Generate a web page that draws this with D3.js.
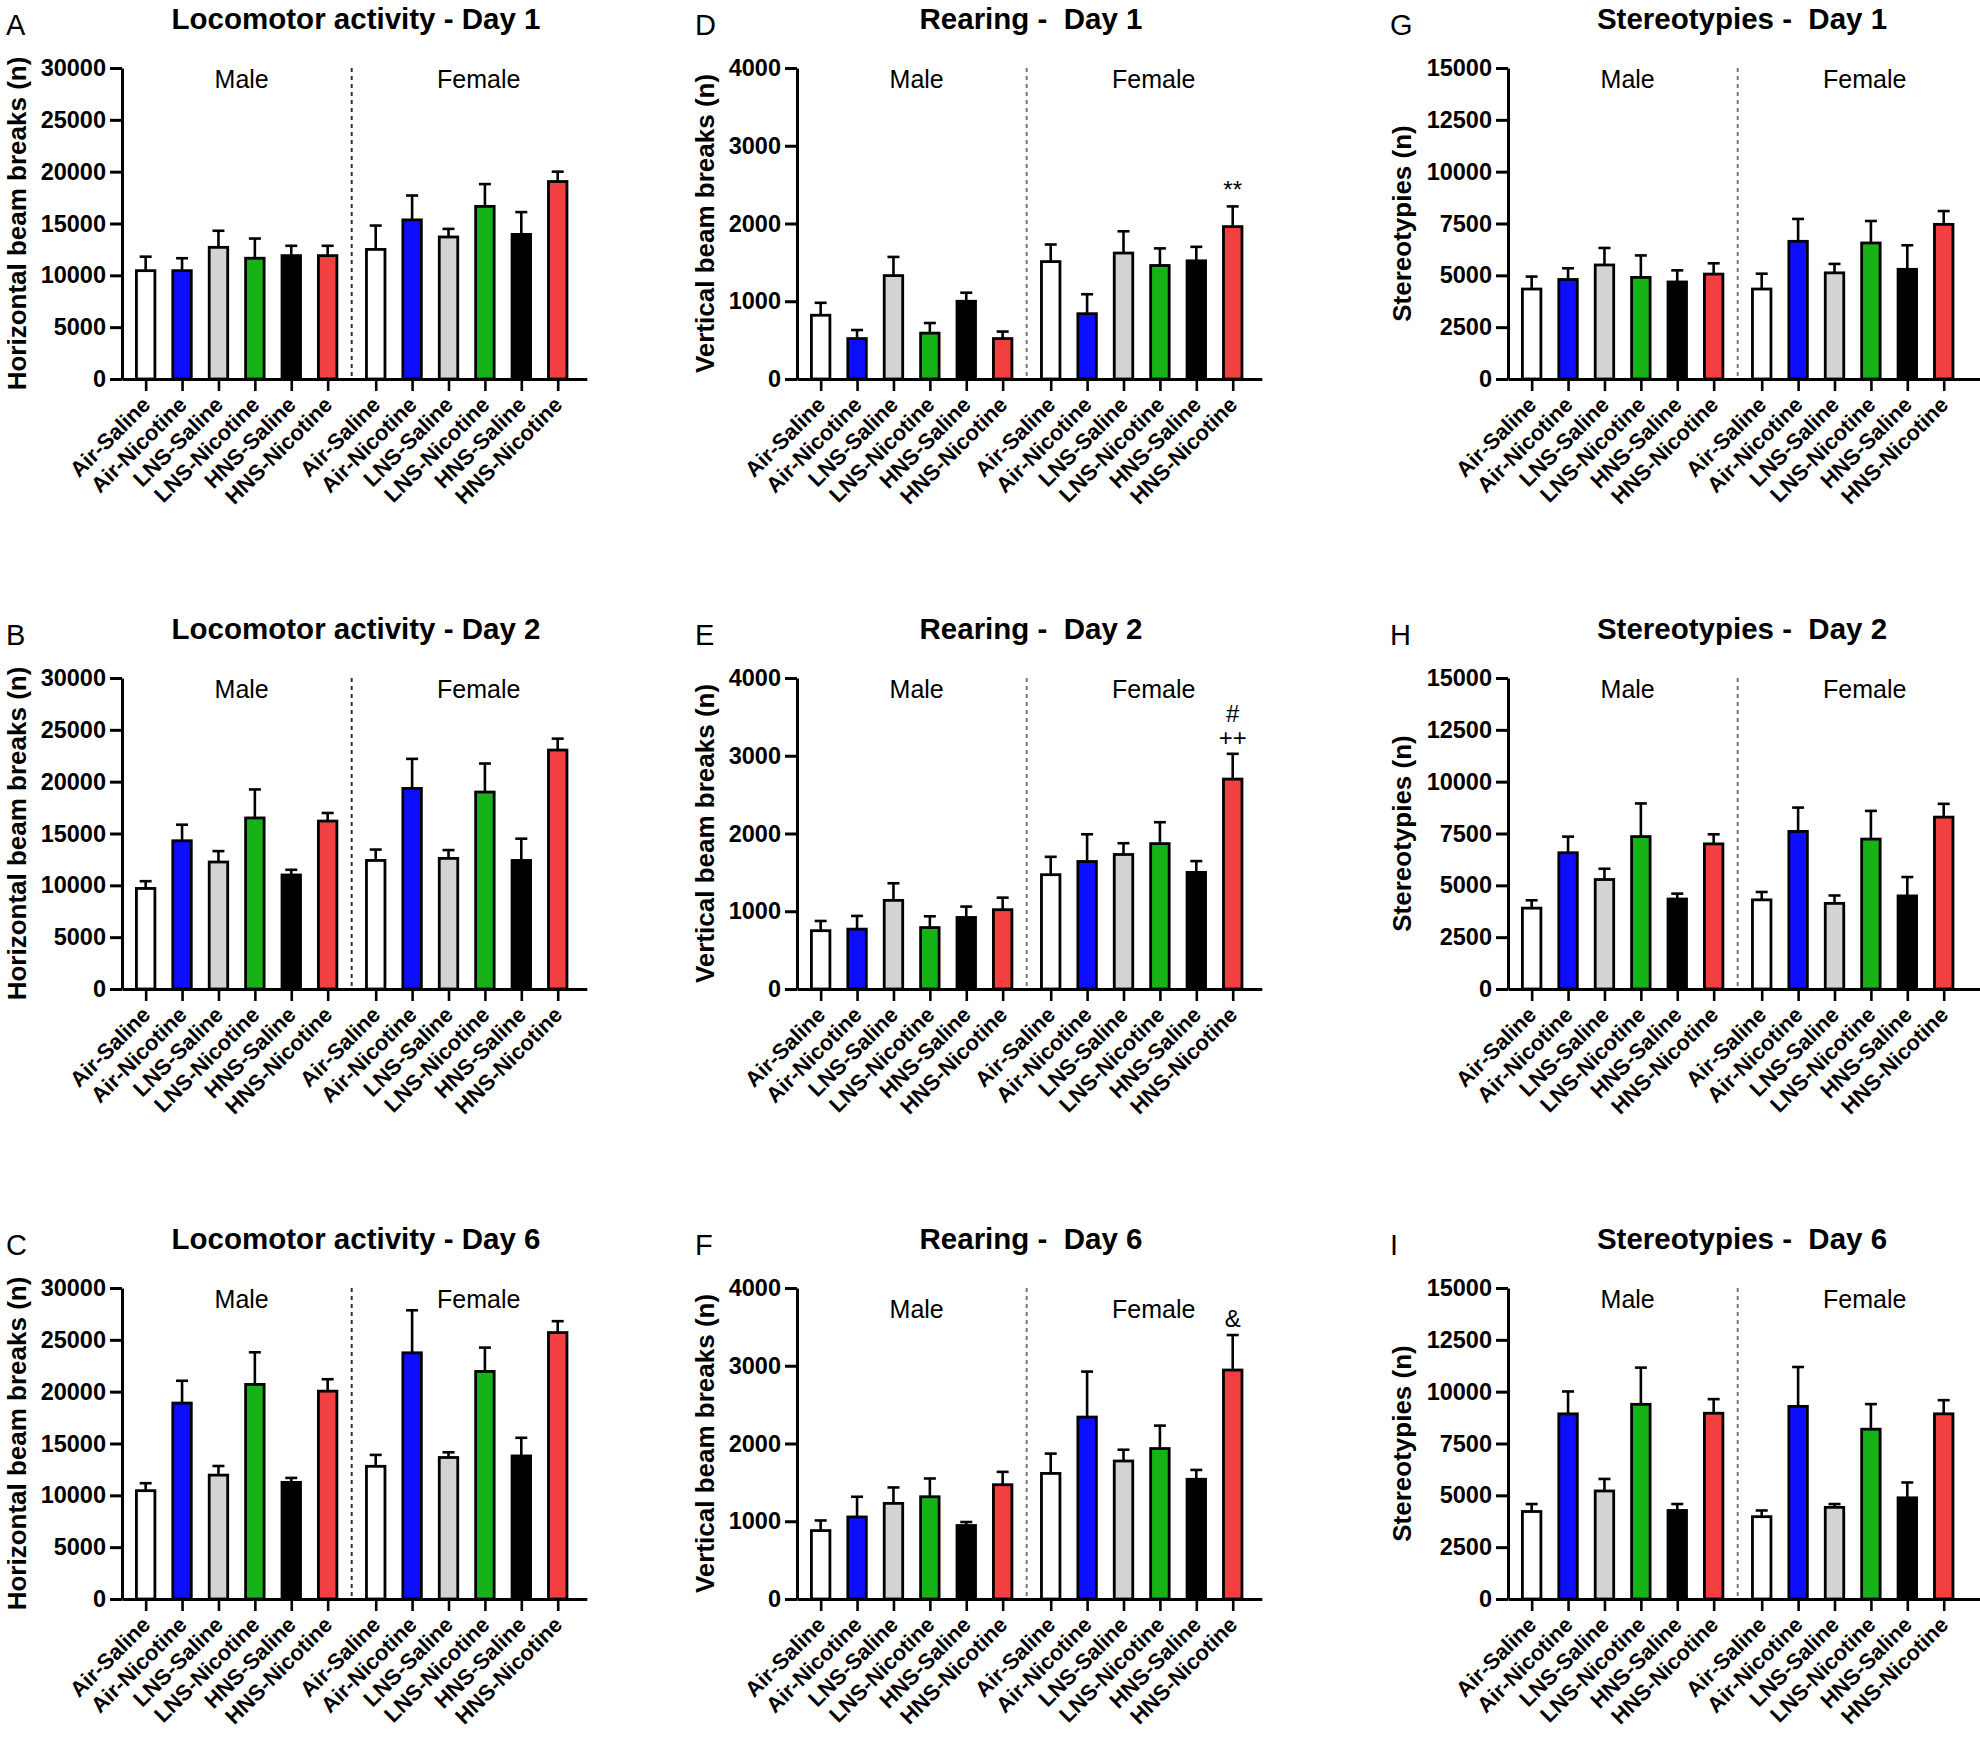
<!DOCTYPE html>
<html>
<head>
<meta charset="utf-8">
<script src="https://cdn.jsdelivr.net/npm/d3@7"></script>
<style>
  body { margin: 0; background: #fff; }
  svg text { font-family: "Liberation Sans", Arial, sans-serif; }
</style>
</head>
<body>
<div id="canvas"></div>
<script>
// groups, repeated for male then female
const groups = ["Air-Saline", "Air-Nicotine", "LNS-Saline", "LNS-Nicotine", "HNS-Saline", "HNS-Nicotine"];
const sexes = ["Male", "Female"];
const categories = groups.concat(groups);
const barColors = ["#ffffff", "#0d0dff", "#d3d3d3", "#17b217", "#000000", "#f23f3f"];

// Locomotor activity (horizontal beam breaks), mean and SEM
const locoDay1Mean = [10450, 10450, 12700, 11650, 11900, 11900, 12500, 15350, 13700, 16650, 13950, 19050];
const locoDay1Sem  = [1350, 1200, 1600, 1900, 950, 950, 2300, 2350, 780, 2150, 2150, 950];
const locoDay2Mean = [9700, 14300, 12250, 16500, 11000, 16200, 12400, 19350, 12600, 19000, 12400, 23050];
const locoDay2Sem  = [700, 1550, 1050, 2750, 500, 780, 1050, 2850, 800, 2750, 2100, 1100];
const locoDay6Mean = [10450, 18900, 11950, 20700, 11250, 20050, 12800, 23750, 13650, 21950, 13800, 25700];
const locoDay6Sem  = [720, 2150, 880, 3100, 430, 1150, 1100, 4100, 500, 2300, 1750, 1100];

// Rearing (vertical beam breaks)
const rearDay1Mean = [820, 520, 1330, 590, 1000, 520, 1510, 840, 1620, 1460, 1520, 1960];
const rearDay1Sem  = [160, 110, 240, 130, 110, 90, 220, 250, 280, 220, 180, 260];
const rearDay2Mean = [750, 770, 1140, 790, 920, 1020, 1470, 1640, 1730, 1870, 1500, 2700];
const rearDay2Sem  = [125, 170, 220, 145, 140, 155, 230, 350, 145, 275, 145, 325];
const rearDay6Mean = [880, 1055, 1230, 1315, 945, 1470, 1615, 2340, 1775, 1935, 1540, 2945];
const rearDay6Sem  = [130, 260, 205, 235, 45, 165, 255, 585, 145, 295, 120, 450];

// Stereotypies
const stereoDay1Mean = [4340, 4800, 5500, 4900, 4680, 5060, 4340, 6640, 5120, 6560, 5290, 7460];
const stereoDay1Sem  = [600, 540, 820, 1060, 560, 520, 740, 1080, 430, 1060, 1160, 640];
const stereoDay2Mean = [3900, 6570, 5280, 7350, 4340, 7000, 4300, 7600, 4130, 7230, 4490, 8290];
const stereoDay2Sem  = [380, 780, 520, 1600, 260, 460, 380, 1150, 380, 1360, 910, 640];
const stereoDay6Mean = [4220, 8930, 5210, 9390, 4270, 8960, 3970, 9290, 4420, 8190, 4880, 8930];
const stereoDay6Sem  = [360, 1080, 580, 1770, 310, 680, 300, 1900, 160, 1210, 740, 660];

// tick labels
const locoTicks = [0, 5000, 10000, 15000, 20000, 25000, 30000];
const rearTicks = [0, 1000, 2000, 3000, 4000];
const stereoTicks = [0, 2500, 5000, 7500, 10000, 12500, 15000];

const panels = [
  {letter: "A", col: 0, row: 0, title: "Locomotor activity - Day 1", ylabel: "Horizontal beam breaks (n)", ticks: locoTicks, mean: locoDay1Mean, sem: locoDay1Sem},
  {letter: "B", col: 0, row: 1, title: "Locomotor activity - Day 2", ylabel: "Horizontal beam breaks (n)", ticks: locoTicks, mean: locoDay2Mean, sem: locoDay2Sem},
  {letter: "C", col: 0, row: 2, title: "Locomotor activity - Day 6", ylabel: "Horizontal beam breaks (n)", ticks: locoTicks, mean: locoDay6Mean, sem: locoDay6Sem},
  {letter: "D", col: 1, row: 0, title: "Rearing -  Day 1", ylabel: "Vertical beam breaks (n)", ticks: rearTicks, mean: rearDay1Mean, sem: rearDay1Sem, marks: ["**"]},
  {letter: "E", col: 1, row: 1, title: "Rearing -  Day 2", ylabel: "Vertical beam breaks (n)", ticks: rearTicks, mean: rearDay2Mean, sem: rearDay2Sem, marks: ["#", "++"]},
  {letter: "F", col: 1, row: 2, title: "Rearing -  Day 6", ylabel: "Vertical beam breaks (n)", ticks: rearTicks, mean: rearDay6Mean, sem: rearDay6Sem, marks: ["&"], lowLabels: true},
  {letter: "G", col: 2, row: 0, title: "Stereotypies -  Day 1", ylabel: "Stereotypies (n)", ticks: stereoTicks, mean: stereoDay1Mean, sem: stereoDay1Sem},
  {letter: "H", col: 2, row: 1, title: "Stereotypies -  Day 2", ylabel: "Stereotypies (n)", ticks: stereoTicks, mean: stereoDay2Mean, sem: stereoDay2Sem},
  {letter: "I", col: 2, row: 2, title: "Stereotypies -  Day 6", ylabel: "Stereotypies (n)", ticks: stereoTicks, mean: stereoDay6Mean, sem: stereoDay6Sem}
];

const width = 1980, height = 1747;
const colX = [122, 797, 1508];
const rowY = [68, 678, 1288];
const letterX = [6, 695, 1390];
const ylabelOff = [105, 92, 106];
const xEnd = [12.12, 12.12, 12.4];   // x axis runs a little further in the last column
const slotPx = 36.4;
const iheight = 311;
const barW = 18.5;

const svg = d3.select("#canvas").append("svg")
  .attr("width", width)
  .attr("height", height);

// female bars are shifted a bit to leave room for the divider
const slot = i => i + (i >= 6 ? 0.32 : 0);

function drawPanel(p) {
  const g = svg.append("g").attr("transform", `translate(${colX[p.col]},${rowY[p.row]})`);
  const ymax = p.ticks[p.ticks.length - 1];
  const y = d3.scaleLinear().domain([0, ymax]).range([iheight, 0]);
  const x = d3.scaleLinear().domain([-0.65, xEnd[p.col]]).range([0, slotPx * (xEnd[p.col] + 0.65)]);

  // error bars (upper only)
  const err = g.append("g").attr("stroke", "#000").attr("stroke-width", 2.6);
  err.selectAll("line.v").data(p.mean).join("line")
    .attr("x1", (d, i) => x(slot(i))).attr("x2", (d, i) => x(slot(i)))
    .attr("y1", d => y(d)).attr("y2", (d, i) => y(d + p.sem[i]));
  err.selectAll("line.c").data(p.mean).join("line")
    .attr("x1", (d, i) => x(slot(i)) - 6).attr("x2", (d, i) => x(slot(i)) + 6)
    .attr("y1", (d, i) => y(d + p.sem[i])).attr("y2", (d, i) => y(d + p.sem[i]));

  g.selectAll("rect.bar").data(p.mean).join("rect")
    .attr("class", "bar")
    .attr("x", (d, i) => x(slot(i)) - barW / 2)
    .attr("y", d => y(d))
    .attr("width", barW)
    .attr("height", d => iheight - y(d))
    .attr("fill", (d, i) => barColors[i % 6])
    .attr("stroke", "#000")
    .attr("stroke-width", 2.8);

  // divider between sexes
  g.append("line")
    .attr("x1", x(5.66)).attr("x2", x(5.66))
    .attr("y1", 0).attr("y2", iheight)
    .attr("stroke", p.col === 0 ? "#333" : "#777")
    .attr("stroke-width", 2)
    .attr("stroke-dasharray", "4,4");

  const labY = p.lowLabels ? 30 : 20;
  g.selectAll("text.sex").data(sexes).join("text")
    .attr("x", (d, i) => i === 0 ? x(2.5) + 5 : x(8.82) + 12)
    .attr("y", labY)
    .attr("text-anchor", "middle")
    .style("font-size", "25px")
    .text(d => d);

  // x axis
  const xa = g.append("g")
    .attr("transform", `translate(0,${iheight})`)
    .call(d3.axisBottom(x).tickValues(d3.range(12).map(slot)).tickSize(12).tickSizeOuter(0).tickFormat(""));
  xa.select(".domain").attr("stroke-width", 3);
  xa.selectAll(".tick line").attr("stroke-width", 2.6);

  g.selectAll("text.xl").data(categories).join("text")
    .attr("transform", (d, i) => `translate(${x(slot(i)) + 6},${iheight + 27}) rotate(-45)`)
    .attr("text-anchor", "end")
    .style("font-size", "22px")
    .style("font-weight", "bold")
    .text(d => d);

  // y axis
  const ya = g.append("g")
    .call(d3.axisLeft(y).tickValues(p.ticks).tickSize(12).tickSizeOuter(0).tickPadding(4).tickFormat(d3.format("d")));
  ya.select(".domain").attr("stroke-width", 3);
  ya.selectAll(".tick line").attr("stroke-width", 3);
  ya.selectAll(".tick text")
    .style("font-size", "23.5px")
    .style("font-weight", "bold")
    .style("font-family", "'Liberation Sans', Arial, sans-serif")
    .attr("fill", "#000");

  g.append("text")
    .attr("transform", `translate(${-ylabelOff[p.col]},${iheight / 2}) rotate(-90)`)
    .attr("text-anchor", "middle")
    .attr("dy", "0.35em")
    .style("font-size", "26px")
    .style("font-weight", "bold")
    .text(p.ylabel);

  // significance marks over female HNS-Nicotine
  if (p.marks) {
    const last = 11;
    const top = y(p.mean[last] + p.sem[last]);
    p.marks.slice().reverse().forEach((m, k) => {
      g.append("text")
        .attr("x", x(slot(last)))
        .attr("y", top - 8 - k * 24)
        .attr("text-anchor", "middle")
        .style("font-size", "24px")
        .text(m);
    });
  }

  g.append("text")
    .attr("x", 234)
    .attr("y", -39)
    .attr("text-anchor", "middle")
    .style("font-size", "29.5px")
    .style("font-weight", "bold")
    .style("white-space", "pre")
    .text(p.title);

  svg.append("text")
    .attr("x", letterX[p.col])
    .attr("y", rowY[p.row] - 33)
    .style("font-size", "29px")
    .text(p.letter);
}

panels.forEach(drawPanel);
</script>
</body>
</html>
